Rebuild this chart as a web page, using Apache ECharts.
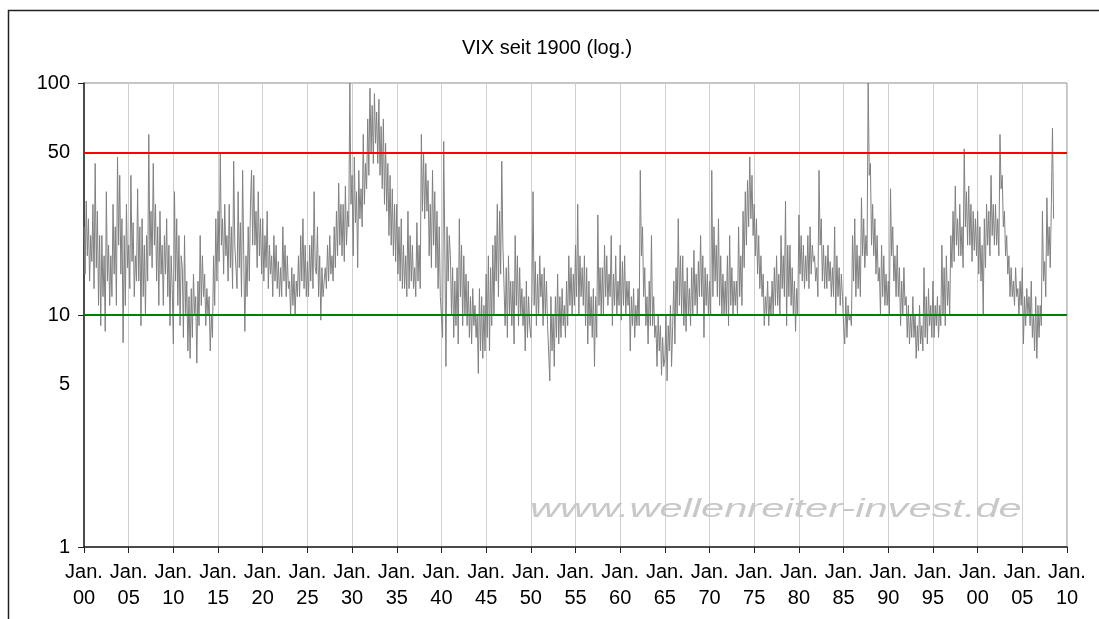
<!DOCTYPE html>
<html lang="de">
<head>
<meta charset="UTF-8">
<title>VIX seit 1900 (log.)</title>
<style type="text/css">
  html, body { margin: 0; padding: 0; background: #fff; }
  #chart { width: 1099px; height: 619px; }
</style>
</head>
<body>
<div id="chart"></div>
<script src="https://cdn.jsdelivr.net/npm/echarts@6.0.0/dist/echarts.min.js"></script>
<script type="text/javascript">
// VIX-Schaetzwerte, 8 Werte pro Jahr
var startYear = 1900;
var step = 0.125;
var vix1900s = [24,15,31,18,26,14,22,17, 30,13,45,16,28,11,22,9, 22,12,18,8.5,34,14,20,11,
                18,12,30,15,24,11,48,20, 40,15,26,7.6,22,11,30,16, 20,13,40,17,25,12,18,14,
                35,14,24,9,26,12,20,10, 22,14,60,18,28,16,45,20, 30,14,24,11,28,15,20,11,
                22,15,26,12,20,9,18,13];
var vix1910s = [7.5,34,14,26,11,22,9,18, 16,8,22,10,14,7,12,6.5, 13,8,15,10,12,6.2,14,9,
                22,11,18,12,15,9,13,10, 12,7,10,8,18,11,26,14, 28,17,50,20,26,15,30,18,
                22,14,30,16,24,13,46,20, 20,13,34,16,25,12,42,18, 8.5,18,12,24,14,30,42,20,
                40,20,28,16,34,18,26,15];
var vix1920s = [26,14,22,16,28,13,20,15, 18,12,22,14,20,13,17,12, 16,12,24,14,20,12,18,13,
                14,10,16,11,15,10,14,12, 18,12,22,14,26,13,20,12, 17,12,20,14,22,13,34,16,
                15,24,12,18,9.5,16,12,14, 16,13,20,14,22,15,18,14, 24,16,28,18,37,20,30,18,
                30,17,36,20,28,24,100,30];
var vix1930s = [40,18,48,25,34,16,42,26, 35,24,60,30,45,35,70,40, 95,50,80,45,90,55,75,45,
                85,40,65,35,70,30,55,28, 45,22,40,20,35,18,30,17, 30,15,24,14,26,13,20,13,
                18,12,28,13,22,14,20,13, 16,12,25,14,20,13,60,28, 50,26,45,28,38,18,30,16,
                42,20,34,16,28,13,24,12];
var vix1940s = [12,8,56,20,6,24,14,22, 18,10,16,8,14,9,16,7.5, 26,12,20,9,18,10,15,9,
                14,8,12,7.5,13,9,11,8, 10,5.6,13,7,12,6.5,11,7, 15,8,18,7,16,9,20,10,
                22,14,30,12,28,15,46,20, 20,9,16,8,18,10,14,9, 14,7.5,22,11,18,9,16,10,
                13,9,12,7,14,8,12,9];
var vix1950s = [8,12,34,11,17,9,15,10, 18,12,15,9,16,10,14,9, 9,5.2,12,7,10,6,12,8,
                15,7.5,12,8,13,9,11,8, 14,9,18,11,16,10,15,11, 20,12,30,10,18,12,16,11,
                18,9,16,7.5,14,9,12,8, 13,6,12,8,27,11,16,10, 16,10,20,12,18,11,15,12,
                22,9,15,11,18,10,14,11];
var vix1960s = [20,9.5,17,11,18,10,14,11, 14,7,12,9,13,8,11,9, 13,9,42,18,24,12,16,9,
                12,7.5,14,9,22,9,12,8, 9,6,10,7,9,5.5,8,6, 6.5,10,5.2,9,7,11,6,9,
                14,7.5,16,10,26,11,18,10, 18,9,14,8.5,16,10,13,9, 16,10,19,11,15,10,17,12,
                22,12,18,8,16,11,15,10];
var vix1970s = [14,10,42,12,24,14,20,12, 26,11,18,10,15,10,14,10, 18,9,22,11,16,10,14,11,
                14,10,24,12,18,11,28,16, 34,20,38,24,48,26,40,22, 30,18,26,15,22,13,18,12,
                15,9,12,10,14,9,12,10, 14,10,16,11,18,11,15,10, 22,13,18,12,31,9,20,12,
                20,11,16,10,14,8.5,13,10];
var vix1980s = [27,15,22,14,20,13,18,14, 22,13,24,15,20,17,18,14, 16,12,42,20,26,14,20,13,
                18,13,20,14,17,12,16,12, 24,10,18,12,16,11,15,12, 9,7.5,12,8,11,9.5,10,9,
                22,14,26,12,20,13,18,12, 32,18,26,16,22,18,100,40, 45,20,30,18,26,15,22,14,
                16,10,20,12,18,11,15,11];
var vix1990s = [14,10,35,18,24,14,18,12, 20,12,16,9,14,10,16,11, 12,8,11,7.5,10,8,12,8,
                10,6.5,9,7,11,7.5,9,7, 16,8,12,7.5,13,9,11,8, 14,8,11,9,12,8,11,9,
                20,10,16,9,18,11,14,10, 22,16,28,17,36,20,26,18, 30,18,24,16,52,24,34,20,
                36,20,30,17,28,19,26,18];
var vix2000s = [28,15,24,14,20,10,26,16, 30,20,28,18,40,22,30,20, 30,20,26,18,60,35,40,24,
                28,18,22,15,18,12,16,12, 14,11,16,12,13,10,14,11, 16,7.5,12,9,13,10,12,9,
                14,8,10,7,12,6.5,11,8, 11,9,28,14,17,12,32,18, 24,16,30,64,26];

// Achsenbeschriftung und Grenzlinien
var yLabels = [1, 5, 10, 50, 100];
var yTicks = [1, 10, 100];
var upperLevel = 50;
var lowerLevel = 10;

var allValues = [].concat(vix1900s, vix1910s, vix1920s, vix1930s, vix1940s,
    vix1950s, vix1960s, vix1970s, vix1980s, vix1990s, vix2000s);
var seriesData = [];
for (var i = 0; i < allValues.length; i++) {
    seriesData.push([startYear + i * step, allValues[i]]);
}

var myChart = echarts.init(document.getElementById('chart'));
var font = '"Liberation Sans", Arial, sans-serif';

var option = {
    animation: false,
    backgroundColor: '#fff',
    title: {
        text: 'VIX seit 1900 (log.)',
        left: 542,
        top: 33,
        textAlign: 'center',
        textStyle: { fontFamily: font, fontSize: 20, fontWeight: 'normal', color: '#000' }
    },
    grid: {
        left: 84, right: 32, top: 83, bottom: 72,
        show: true,
        borderColor: '#8c8c8c',
        borderWidth: 1
    },
    xAxis: {
        type: 'value',
        min: 1900,
        max: 2010,
        interval: 5,
        axisLine: { show: true, onZero: false, lineStyle: { color: '#222', width: 1.5 } },
        axisTick: { show: true, length: 6, lineStyle: { color: '#222' } },
        splitLine: { show: true, lineStyle: { color: '#cfcfcf', width: 1 } },
        axisLabel: {
            fontFamily: font, fontSize: 20, color: '#000', margin: 12, lineHeight: 26,
            formatter: function (v) {
                var yy = Math.round(v) % 100;
                return 'Jan.\n' + (yy < 10 ? '0' + yy : yy);
            }
        }
    },
    yAxis: {
        type: 'log',
        logBase: 10,
        min: 1,
        max: 100,
        axisLine: { show: true, onZero: false, lineStyle: { color: '#222', width: 1.5 } },
        axisTick: { show: true, length: 6, lineStyle: { color: '#222' }, customValues: yTicks },
        splitLine: { show: false },
        axisLabel: {
            fontFamily: font, fontSize: 20, color: '#000', margin: 14,
            customValues: yLabels
        }
    },
    graphic: [
        {
            type: 'rect', silent: true, z: -10,
            shape: { x: 8.5, y: 10.5, width: 1200, height: 800 },
            style: { fill: null, stroke: '#222', lineWidth: 1.5 }
        },
        {
            type: 'text', silent: true, z: 1,
            x: 530, y: 510, scaleX: 1.6,
            style: {
                text: 'www.wellenreiter-invest.de',
                font: 'italic 26px "Liberation Sans", Arial, sans-serif',
                fill: '#c8c8c8',
                textAlign: 'left',
                textVerticalAlign: 'middle'
            }
        }
    ],
    series: [
        {
            name: 'VIX',
            type: 'line',
            data: seriesData,
            showSymbol: false,
            symbol: 'none',
            lineStyle: { color: '#808080', width: 1 },
            z: 3,
            markLine: {
                silent: true,
                symbol: 'none',
                label: { show: false },
                data: [
                    { yAxis: upperLevel, lineStyle: { color: '#ff0000', width: 2, type: 'solid' } },
                    { yAxis: lowerLevel, lineStyle: { color: '#008000', width: 2, type: 'solid' } }
                ]
            }
        }
    ]
};
myChart.setOption(option);
</script>
</body>
</html>
